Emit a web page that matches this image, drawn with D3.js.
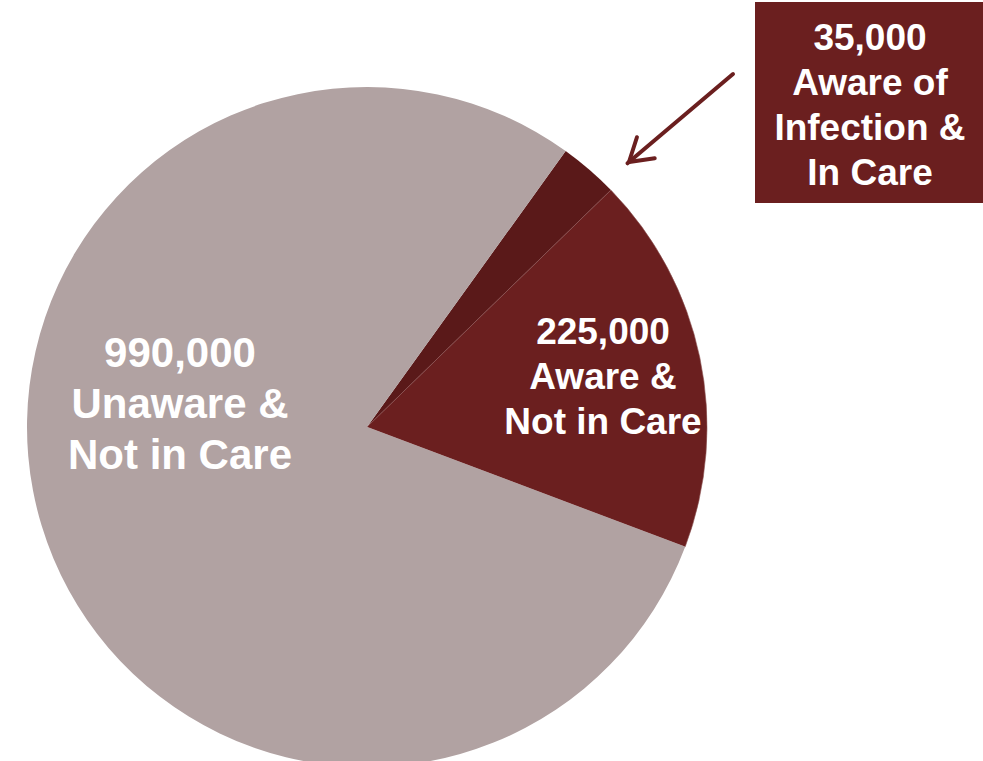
<!DOCTYPE html>
<html>
<head>
<meta charset="utf-8">
<script src="https://cdn.jsdelivr.net/npm/d3@7"></script>
<style>
  html, body { margin: 0; padding: 0; background: #ffffff; overflow: hidden; }
  svg { display: block; }
  text { font-family: "Liberation Sans", Arial, sans-serif; font-weight: bold; fill: #ffffff; }
</style>
</head>
<body>
<svg id="chart" width="983" height="761"></svg>
<script>
// Care-status groups and their counts
const categories = ["Aware of Infection & In Care", "Aware & Not in Care", "Unaware & Not in Care"];
const values = [35000, 225000, 990000];
const colors = ["#5a1919", "#6b1f1f", "#b1a2a2"];
// Label lines shown inside / beside slices
const labelLines = [
  ["35,000", "Aware of", "Infection &", "In Care"],
  ["225,000", "Aware &", "Not in Care"],
  ["990,000", "Unaware &", "Not in Care"]
];

const W = 983, H = 761;
const cx = 367, cy = 427, R = 340;
const svg = d3.select("#chart");

const pie = d3.pie().sort(null).value(d => d.value)
  .startAngle(35.75 * Math.PI / 180)
  .endAngle(35.75 * Math.PI / 180 + 2 * Math.PI);
const arc = d3.arc().innerRadius(0).outerRadius(R);

const data = categories.map((c, i) => ({ name: c, value: values[i], color: colors[i], lines: labelLines[i] }));
const arcs = pie(data);

const g = svg.append("g").attr("transform", `translate(${cx},${cy})`);
g.selectAll("path.slice").data(arcs).join("path")
  .attr("class", "slice")
  .attr("d", arc)
  .attr("fill", d => d.data.color)
  .attr("stroke", (d, i) => i === 1 ? "#8a5050" : "none")
  .attr("stroke-width", 0.6);

// In-slice labels for the two larger groups
const inLabel = [
  null,
  { x: 603, y: 344, size: 37, lh: 45 },
  { x: 180, y: 367, size: 42, lh: 51 }
];
arcs.forEach((a, i) => {
  const L = inLabel[i];
  if (!L) return;
  const t = svg.append("text").attr("text-anchor", "middle").style("font-size", L.size + "px");
  a.data.lines.forEach((s, k) => {
    t.append("tspan").attr("x", L.x).attr("y", L.y + k * L.lh).text(s);
  });
});

// Callout box for the smallest group
const box = { x: 755, y: 2, w: 228, h: 201 };
svg.append("rect").attr("x", box.x).attr("y", box.y).attr("width", box.w).attr("height", box.h)
  .attr("fill", "#6b1f1f");
const bt = svg.append("text").attr("text-anchor", "middle").style("font-size", "37px");
arcs[0].data.lines.forEach((s, k) => {
  bt.append("tspan").attr("x", 870).attr("y", 50 + k * 45).text(s);
});

// Arrow pointing at the small slice
const from = [733, 74], to = [629, 162];
const ang = Math.atan2(to[1] - from[1], to[0] - from[0]);
const headLen = 26, headAng = 32 * Math.PI / 180;
svg.append("line")
  .attr("x1", from[0]).attr("y1", from[1]).attr("x2", to[0] + 2 * Math.cos(ang)).attr("y2", to[1] + 2 * Math.sin(ang))
  .attr("stroke", "#6b1f1f").attr("stroke-width", 4).attr("stroke-linecap", "round");
const p1 = [to[0] - headLen * Math.cos(ang - headAng), to[1] - headLen * Math.sin(ang - headAng)];
const p2 = [to[0] - headLen * Math.cos(ang + headAng), to[1] - headLen * Math.sin(ang + headAng)];
svg.append("path")
  .attr("d", `M${p1[0]},${p1[1]} L${to[0]},${to[1]} L${p2[0]},${p2[1]}`)
  .attr("fill", "none").attr("stroke", "#6b1f1f").attr("stroke-width", 4)
  .attr("stroke-linecap", "round").attr("stroke-linejoin", "miter");
</script>
</body>
</html>
